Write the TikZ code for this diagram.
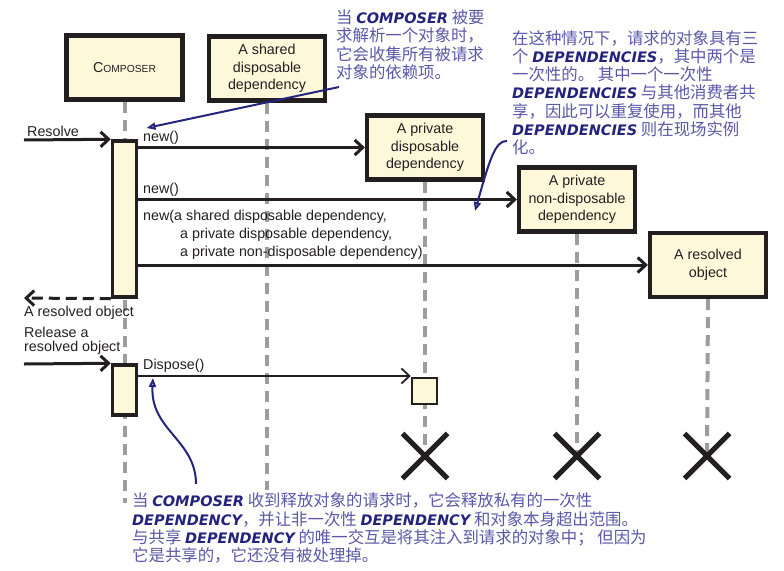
\documentclass[tikz,border=0pt]{standalone}
\usepackage{fontspec}
\setmainfont{Liberation Sans}
\newfontfamily\cjkfont{Noto Sans CJK SC}
\newfontfamily\keyfont{DejaVu Sans}
\usepackage{tikz}
\usetikzlibrary{arrows.meta,shapes.misc,positioning,backgrounds}
\definecolor{Cream}{HTML}{FEF8DB}
\definecolor{Ink}{HTML}{231F20}
\definecolor{Life}{HTML}{9D9D9D}
\definecolor{NoteText}{HTML}{5B57A8}
\definecolor{NoteKey}{HTML}{23237D}
\definecolor{NoteLine}{HTML}{25257F}
\newcommand{\lblfont}{\fontsize{14.3}{17.6}\selectfont}
\newcommand{\kw}[1]{{\keyfont\bfseries\itshape\fontsize{14.5}{18.3}\selectfont\color{NoteKey}#1}}

\begin{document}
\begin{tikzpicture}[x=1pt,y=-1pt,
  objbox/.style={draw=Ink,line width=4.2pt,fill=Cream,minimum width=116pt,
    minimum height=64pt,align=center,inner sep=0pt,font=\lblfont,text=Ink},
  activation/.style={draw=Ink,line width=3.5pt,fill=Cream,minimum width=24pt,inner sep=0pt},
  lifeline/.style={Life,line width=4pt,dash pattern=on 11pt off 7pt},
  msg/.style={Ink,line width=3pt,-{Straight Barb[length=8pt,width=15pt]}},
  reply/.style={msg,dash pattern=on 11pt off 6pt},
  msglabel/.style={anchor=base west,inner sep=0pt,font=\lblfont,text=Ink},
  destroy/.style={cross out,draw=Ink,line width=5pt,minimum size=40pt,inner sep=0pt},
  note/.style={anchor=north west,inner sep=0pt,align=left,
    font=\cjkfont\fontsize{16.4}{18.3}\selectfont,text=NoteText},
  notearrow/.style={NoteLine,line width=2pt,-{Triangle[open,length=9pt,width=7pt]}}]
\useasboundingbox (0,0) rectangle (784,570);

% Participants.
\node[objbox] (composer) at (124.5,67.5)
  {{\fontsize{14.3}{17}\selectfont C}{\fontsize{10.3}{17}\selectfont OMPOSER}};
\node[objbox] (shared) at (267,68.5) {A shared\\disposable\\dependency};
\node[objbox] (pdisp) at (425,147.5) {A private\\disposable\\dependency};
\node[objbox] (ndisp) at (577,199.5) {A private\\non-disposable\\dependency};
\node[objbox] (resolved) at (708,265) {A resolved\\object};

% Activations and ends of life.
\node[activation,minimum height=156pt] (act1) at (124.5,219) {};
\node[activation,minimum height=50pt] (act2) at (124.5,390) {};
\node[activation,minimum width=25pt,minimum height=26pt,line width=2.5pt] (dact) at (424.5,391) {};
\node[destroy] (xpd) at (425,456) {};
\node[destroy] (xnd) at (577,456) {};
\node[destroy] (xres) at (707,456) {};

\coordinate (composerend) at (124.5,503);
\coordinate (sharedend) at (267,490);
\begin{scope}[on background layer]
  \draw[lifeline] (composer.south) -- (composerend);
  \draw[lifeline] (shared.south) -- (sharedend);
  \draw[lifeline] (pdisp.south) -- (xpd.center);
  \draw[lifeline] (ndisp.south) -- (xnd.center);
  \draw[lifeline] (resolved.south) -- (xres.center);
\end{scope}

% Resolve.
\coordinate (resolvein) at (24,140);
\draw[msg] (resolvein) -- (act1.north west);
\node[msglabel] (lresolve) at (27,136) {Resolve};
\draw[msg] (act1.east |- pdisp.west) -- (pdisp.west);
\node[msglabel] (lnew1) at (143,141.5) {new()};
\draw[msg] (act1.east |- ndisp.west) -- (ndisp.west);
\node[msglabel] (lnew2) at (143,193.3) {new()};
\draw[msg] (act1.east |- resolved.west) -- (resolved.west);
\node[msglabel,anchor=north west,align=left] (lnew3) at (143,210.3)
  {new(a shared disposable dependency,\\
   \hspace*{37pt}a private disposable dependency,\\
   \hspace*{37pt}a private non-disposable dependency)};
\coordinate (resolveout) at (24,298);
\draw[reply] (act1.south west) -- (resolveout);
\node[msglabel] (lback) at (24,316.7) {A resolved object};

% Release.
\node[msglabel,anchor=north west,align=left,font=\fontsize{14.3}{14.3}\selectfont]
  (lrelease) at (24,326.8) {Release a\\resolved object};
\coordinate (releasein) at (24,364);
\draw[msg] (releasein) -- (act2.north west);
\draw[msg,line width=1.8pt] (act2.east |- 0,376) -- (dact.west |- 0,376);
\node[msglabel] (ldispose) at (143,369.3) {Dispose()};

% Notes.
\node[note] (note1) at (336,9.5)
  {当 \kw{COMPOSER} 被要\\
   求解析一个对象时，\\
   它会收集所有被请求\\
   对象的依赖项。};
\node[note] (note2) at (512,30)
  {在这种情况下，请求的对象具有三\\
   个 \kw{DEPENDENCIES}，其中两个是\\
   一次性的。 其中一个一次性\\
   \kw{DEPENDENCIES} 与其他消费者共\\
   享，因此可以重复使用，而其他\\
   \kw{DEPENDENCIES} 则在现场实例\\
   化。};
\node[note] (note3) at (132,492.8)
  {当 \kw{COMPOSER} 收到释放对象的请求时，它会释放私有的一次性\\
   \kw{DEPENDENCY}，并让非一次性 \kw{DEPENDENCY} 和对象本身超出范围。\\
   与共享 \kw{DEPENDENCY} 的唯一交互是将其注入到请求的对象中； 但因为\\
   它是共享的，它还没有被处理掉。};

\coordinate (n1from) at (339,87);
\coordinate (n1to) at (146.5,128);
\draw[notearrow] (n1from) -- (n1to);
\coordinate (n2from) at (507,141);
\coordinate (n2to) at (475,211);
\draw[notearrow] (n2from) .. controls (495,140) and (489,162) .. (n2to);
\coordinate (n3from) at (196,484);
\coordinate (n3to) at (153,378);
\draw[notearrow] (n3from) .. controls (196,440) and (150,430) .. (n3to);
\end{tikzpicture}
\end{document}
